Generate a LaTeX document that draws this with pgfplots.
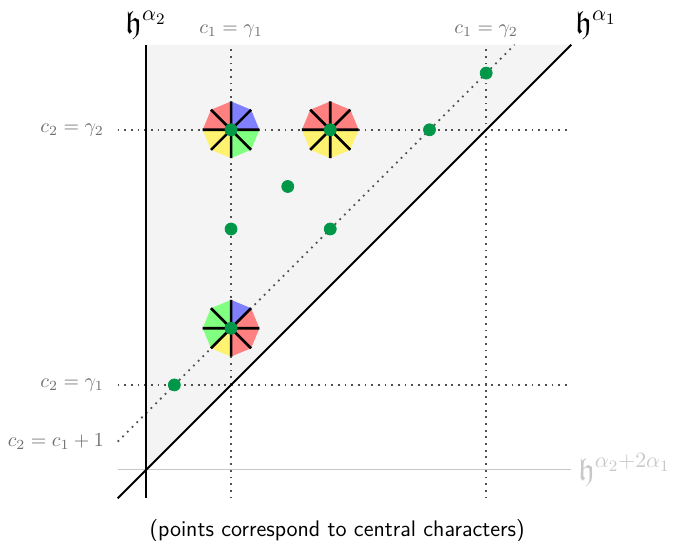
\documentclass[border=0pt]{standalone}
\usepackage{amssymb}
\usepackage{pgfplots}
\pgfplotsset{compat=1.18}
\definecolor{dotgreen}{RGB}{0,152,72}
\definecolor{sred}{RGB}{255,128,128}
\definecolor{sblue}{RGB}{128,128,255}
\definecolor{sgreen}{RGB}{128,255,128}
\definecolor{syellow}{RGB}{255,242,112}
\definecolor{shade}{RGB}{244,244,244}
\definecolor{lblgray}{RGB}{110,110,110}
\definecolor{ltgray}{RGB}{200,200,200}
\definecolor{dotgray}{RGB}{80,80,80}
\begin{document}
\begin{tikzpicture}
\begin{axis}[x=1cm,y=1cm,xmin=-0.5,xmax=7.5,ymin=-0.5,ymax=7.5,
  hide axis,clip=false,
  dotl/.style={dotgray,line width=0.9pt,dash pattern=on 0.9pt off 2.45pt,no marks},
  spoke/.style={black,line width=1.3pt,no marks}]
\coordinate (bl) at (axis cs:-2.575,-1.252);
\coordinate (tr) at (axis cs:9.33,8.289);
% shaded wedge
\addplot[draw=none,fill=shade] coordinates {(0,0) (0,7.5) (7.5,7.5)} -- cycle;
% gray line
\addplot[ltgray,line width=0.5pt,no marks] coordinates {(-0.5,0) (7.5,0)};
% dotted lines
\addplot[dotl] coordinates {(1.5,-0.5) (1.5,7.5)};
\addplot[dotl] coordinates {(6,-0.5) (6,7.5)};
\addplot[dotl] coordinates {(-0.5,6) (7.5,6)};
\addplot[dotl] coordinates {(-0.5,1.5) (7.5,1.5)};
\addplot[dotl] coordinates {(-0.5,0.5) (6.5,7.5)};
% main lines
\addplot[black,line width=1pt,no marks] coordinates {(0,-0.5) (0,7.5)};
\addplot[black,line width=1pt,no marks] coordinates {(-0.5,-0.5) (7.5,7.5)};
% octagon A at (1.5,6)
\addplot[draw=none,fill=sblue] coordinates {(1.5,6) (2,6) (1.85355,6.35355) (1.5,6.5)} -- cycle;
\addplot[draw=none,fill=sred] coordinates {(1.5,6) (1.5,6.5) (1.14645,6.35355) (1,6)} -- cycle;
\addplot[draw=none,fill=syellow] coordinates {(1.5,6) (1,6) (1.14645,5.64645) (1.5,5.5)} -- cycle;
\addplot[draw=none,fill=sgreen] coordinates {(1.5,6) (1.5,5.5) (1.85355,5.64645) (2,6)} -- cycle;
\addplot[spoke,unbounded coords=jump] coordinates {(1,6) (2,6) (nan,nan) (1.5,5.5) (1.5,6.5) (nan,nan) (1.14645,5.64645) (1.85355,6.35355) (nan,nan) (1.14645,6.35355) (1.85355,5.64645)};
% octagon B at (3.25,6)
\addplot[draw=none,fill=sred] coordinates {(3.25,6) (3.75,6) (3.60355,6.35355) (3.25,6.5) (2.89645,6.35355) (2.75,6)} -- cycle;
\addplot[draw=none,fill=syellow] coordinates {(3.25,6) (2.75,6) (2.89645,5.64645) (3.25,5.5) (3.60355,5.64645) (3.75,6)} -- cycle;
\addplot[spoke,unbounded coords=jump] coordinates {(2.75,6) (3.75,6) (nan,nan) (3.25,5.5) (3.25,6.5) (nan,nan) (2.89645,5.64645) (3.60355,6.35355) (nan,nan) (2.89645,6.35355) (3.60355,5.64645)};
% octagon C at (1.5,2.5)
\addplot[draw=none,fill=sred] coordinates {(1.5,2.5) (1.5,2) (1.85355,2.14645) (2,2.5) (1.85355,2.85355)} -- cycle;
\addplot[draw=none,fill=sblue] coordinates {(1.5,2.5) (1.85355,2.85355) (1.5,3)} -- cycle;
\addplot[draw=none,fill=sgreen] coordinates {(1.5,2.5) (1.5,3) (1.14645,2.85355) (1,2.5) (1.14645,2.14645)} -- cycle;
\addplot[draw=none,fill=syellow] coordinates {(1.5,2.5) (1.14645,2.14645) (1.5,2)} -- cycle;
\addplot[spoke,unbounded coords=jump] coordinates {(1,2.5) (2,2.5) (nan,nan) (1.5,2) (1.5,3) (nan,nan) (1.14645,2.14645) (1.85355,2.85355) (nan,nan) (1.14645,2.85355) (1.85355,2.14645)};
% central characters
\addplot[only marks,mark=*,mark size=3pt,dotgreen,mark options={draw=dotgreen,fill=dotgreen}] coordinates {
(0.5,1.5) (1.5,2.5) (1.5,4.25) (2.5,5) (3.25,4.25) (3.25,6) (1.5,6) (5,6) (6,7)};
% labels
\node[anchor=south,font=\fontsize{16}{19}\selectfont] at (axis cs:0,7.47) {$\mathfrak{h}^{\alpha_2}$};
\node[anchor=south west,font=\fontsize{16}{19}\selectfont] at (axis cs:7.45,7.47) {$\mathfrak{h}^{\alpha_1}$};
\node[anchor=west,font=\fontsize{16}{19}\selectfont,text=ltgray] at (axis cs:7.5,0) {$\mathfrak{h}^{\alpha_2+2\alpha_1}$};
\node[anchor=base,text=lblgray] at (axis cs:1.5,7.7) {$c_1=\gamma_1$};
\node[anchor=base,text=lblgray] at (axis cs:6,7.7) {$c_1=\gamma_2$};
\node[anchor=east,text=lblgray] at (axis cs:-0.62,6) {$c_2=\gamma_2$};
\node[anchor=east,text=lblgray] at (axis cs:-0.62,1.5) {$c_2=\gamma_1$};
\node[anchor=east,text=lblgray] at (axis cs:-0.62,0.5) {$c_2=c_1+1$};
\node[font=\fontsize{11.3}{13}\sffamily] at (axis cs:3.37,-1.07) {(points correspond to central characters)};
\end{axis}
\pgfresetboundingbox
\path (bl) rectangle (tr);
\end{tikzpicture}
\end{document}
